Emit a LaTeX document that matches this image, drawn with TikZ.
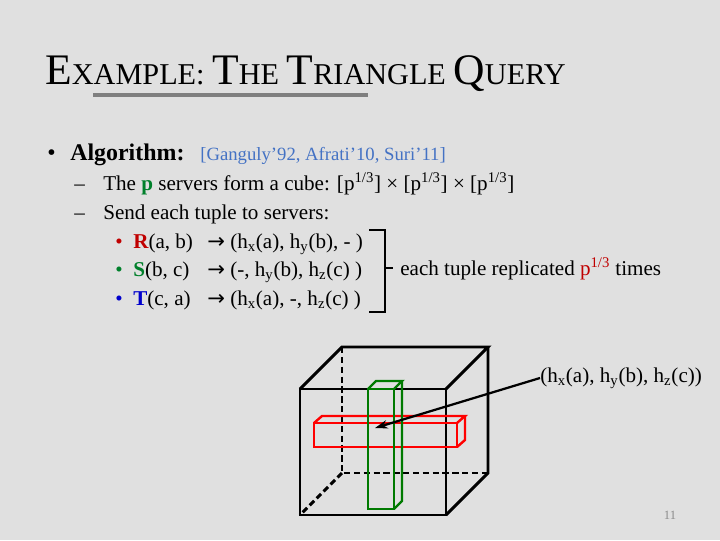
\documentclass[tikz,border=0pt]{standalone}
\usepackage{fontspec}
\setmainfont{Liberation Serif}
\newfontfamily\symfont{DejaVu Sans}
\usetikzlibrary{arrows.meta,positioning,calc}
\definecolor{SlideGray}{HTML}{E0E0E0}
\definecolor{BarGray}{HTML}{7F7F7F}
\definecolor{NumGray}{HTML}{8C8C8C}
\definecolor{RelRed}{HTML}{C00000}
\definecolor{RelGreen}{HTML}{00802B}
\definecolor{RelBlue}{HTML}{0000CC}
\definecolor{RefBlue}{HTML}{4472C4}
\definecolor{BoxGreen}{HTML}{007A00}
\newcommand{\hx}{h\textsubscript{x}}
\newcommand{\hy}{h\textsubscript{y}}
\newcommand{\hz}{h\textsubscript{z}}
\newcommand{\cuberoot}{p\textsuperscript{1/3}}
\newcommand{\sendto}{{\symfont\char"2192}}
\tikzset{
  % Slide text, placed by its baseline
  body/.style={anchor=base west, inner sep=0pt, font=\fontsize{15}{17}\selectfont},
  % First level bullet text
  lvl1/.style={body, font=\fontsize{17}{20}\selectfont\bfseries},
  % Reference list
  refs/.style={body, font=\fontsize{13.3}{15}\selectfont, text=RefBlue},
  % Title with fake small caps
  ttl/.style={anchor=base west, inner sep=0pt},
  % Cube edges
  edge/.style={line width=2.1pt, black},
  hidden/.style={edge, dash pattern=on 4.5pt off 2.5pt},
  % Slices of the cube
  slab/.style={line width=1.7pt, draw=#1},
  % Arrow to the cell
  pointer/.style={-{Stealth[length=9pt,width=6pt]}, line width=1.6pt, black}
}

\begin{document}
\begin{tikzpicture}[x=0.025cm, y=-0.025cm]
  \fill[SlideGray] (0,0) rectangle (720,540);
  \useasboundingbox (0,0) rectangle (720,540);

  % title
  \node[ttl] (title) at (45,84) {%
    \fontsize{31}{31}\selectfont E\fontsize{21.5}{21.5}\selectfont XAMPLE:
    \fontsize{31}{31}\selectfont T\fontsize{21.5}{21.5}\selectfont HE
    \fontsize{31}{31}\selectfont T\fontsize{21.5}{21.5}\selectfont RIANGLE
    \fontsize{31}{31}\selectfont Q\fontsize{21.5}{21.5}\selectfont UERY};
  \draw[BarGray, line width=2.2pt] (93,95) -- (368,95);

  % algorithm
  \node[lvl1] (dot1) at (47,160) {\mdseries •};
  \node[lvl1] (algo) at (70,160) {Algorithm:};
  \node[refs] (cite) at (200,160) {[Ganguly’92, Afrati’10, Suri’11]};

  \node[body] (dash1) at (74,190) {–};
  \node[body] (cube) at (103,190) {The \textbf{\textcolor{RelGreen}{p}} servers form a cube:
    [\cuberoot] × [\cuberoot] × [\cuberoot]};
  \node[body] (dash2) at (74,219) {–};
  \node[body] (send) at (103,219) {Send each tuple to servers:};

  % tuples
  \node[body, text=RelRed]   (dotr) at (115,248) {•};
  \node[body] (rel r) at (133,248) {\textbf{\textcolor{RelRed}{R}}(a, b)};
  \node[body] (to r)  at (207,248) {\sendto};
  \node[body] (dst r) at (230,248) {(\hx(a), \hy(b), - )};

  \node[body, text=RelGreen] (dots) at (115,276) {•};
  \node[body] (rel s) at (133,276) {\textbf{\textcolor{RelGreen}{S}}(b, c)};
  \node[body] (to s)  at (207,276) {\sendto};
  \node[body] (dst s) at (230,276) {(-, \hy(b), \hz(c) )};

  \node[body, text=RelBlue]  (dott) at (115,305) {•};
  \node[body] (rel t) at (133,305) {\textbf{\textcolor{RelBlue}{T}}(c, a)};
  \node[body] (to t)  at (207,305) {\sendto};
  \node[body] (dst t) at (230,305) {(\hx(a), -, \hz(c) )};

  % bracket
  \node[body] (repl) at (400,275) {each tuple replicated \textcolor{RelRed}{\cuberoot} times};
  \coordinate (brtop) at (369,230);
  \coordinate (brbot) at (369,312);
  \coordinate (brmid) at (385,268);
  \draw[edge] (brtop) -- (385,230) -- (385,312) -- (brbot);
  \draw[edge, shorten >=5pt] (brmid) -- (repl.west |- brmid);

  % cube
  \draw[edge] (300,389) rectangle (446,515);
  \draw[edge] (300,389) -- (342,347) -- (488,347) -- (446,389);
  \draw[edge] (488,347) -- (488,473) -- (446,515);
  \draw[hidden] (342,347) -- (342,473) -- (488,473);
  \draw[hidden] (342,473) -- (300,515);

  % red slice
  \draw[slab=red] (314,423) rectangle (457,447);
  \draw[slab=red] (314,423) -- (322,416) -- (465,416) -- (457,423);
  \draw[slab=red] (457,447) -- (465,440) -- (465,416);

  % green slice
  \draw[slab=BoxGreen] (368,389) rectangle (394,509);
  \draw[slab=BoxGreen] (368,389) -- (376,381) -- (402,381) -- (394,389);
  \draw[slab=BoxGreen] (394,509) -- (402,501) -- (402,381);

  % the cell
  \node[body, anchor=west] (apex) at (540,378) {(\hx(a), \hy(b), \hz(c))};
  \coordinate (cell) at (375,428);
  \draw[pointer] (apex.west) -- (cell);

  \node[font=\fontsize{9}{9}\selectfont, text=NumGray] (page) at (670,515) {11};
\end{tikzpicture}
\end{document}
